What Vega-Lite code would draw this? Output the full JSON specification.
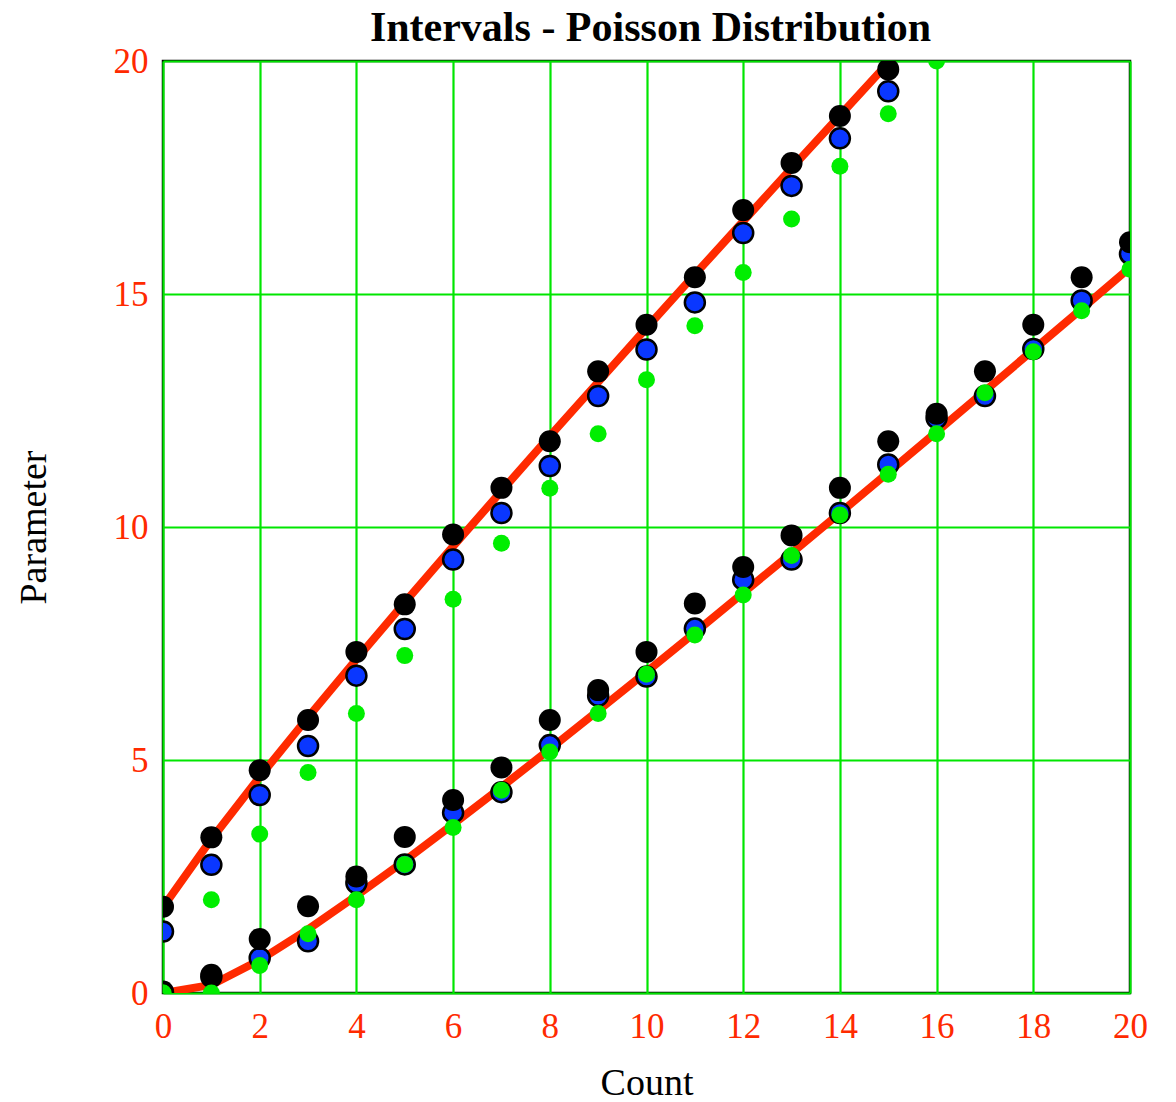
{
  "$schema": "https://vega.github.io/schema/vega-lite/v6.json",
  "width": 967,
  "height": 932,
  "autosize": {"type": "none"},
  "padding": {"left": 163, "top": 61, "right": 46, "bottom": 109},
  "background": "white",
  "title": {
    "text": "Intervals - Poisson Distribution",
    "font": "Liberation Serif",
    "fontSize": 42,
    "fontWeight": "bold",
    "color": "black",
    "anchor": "middle",
    "frame": "group",
    "baseline": "alphabetic",
    "offset": 20,
    "dy": 59,
    "dx": 4
  },
  "config": {
    "view": {"stroke": "black", "strokeWidth": 2.5},
    "axis": {
      "domain": false,
      "ticks": false,
      "grid": true,
      "gridColor": "#00e600",
      "gridWidth": 2.2,
      "gridOpacity": 1,
      "labelFont": "Liberation Serif",
      "labelFontSize": 35,
      "labelColor": "#ff2a00",
      "titleFont": "Liberation Serif",
      "titleFontSize": 38,
      "titleFontWeight": "normal",
      "titleColor": "black"
    }
  },
  "data": {
    "values": [
      {"count": 0, "red_lo": 0, "red_hi": 1.841, "black_lo": 0.03, "black_hi": 1.85, "blue_lo": 0, "blue_hi": 1.32, "green_lo": 0, "green_hi": 0},
      {"count": 1, "red_lo": 0.173, "red_hi": 3.3, "black_lo": 0.39, "black_hi": 3.34, "blue_lo": 0.35, "blue_hi": 2.75, "green_lo": 0, "green_hi": 2.0},
      {"count": 2, "red_lo": 0.708, "red_hi": 4.638, "black_lo": 1.16, "black_hi": 4.78, "blue_lo": 0.75, "blue_hi": 4.25, "green_lo": 0.59, "green_hi": 3.41},
      {"count": 3, "red_lo": 1.367, "red_hi": 5.918, "black_lo": 1.86, "black_hi": 5.86, "blue_lo": 1.11, "blue_hi": 5.3, "green_lo": 1.27, "green_hi": 4.73},
      {"count": 4, "red_lo": 2.086, "red_hi": 7.163, "black_lo": 2.5, "black_hi": 7.32, "blue_lo": 2.36, "blue_hi": 6.81, "green_lo": 2.0, "green_hi": 6.0},
      {"count": 5, "red_lo": 2.84, "red_hi": 8.382, "black_lo": 3.35, "black_hi": 8.34, "blue_lo": 2.76, "blue_hi": 7.81, "green_lo": 2.76, "green_hi": 7.24},
      {"count": 6, "red_lo": 3.62, "red_hi": 9.584, "black_lo": 4.14, "black_hi": 9.84, "blue_lo": 3.87, "blue_hi": 9.3, "green_lo": 3.55, "green_hi": 8.45},
      {"count": 7, "red_lo": 4.419, "red_hi": 10.77, "black_lo": 4.84, "black_hi": 10.84, "blue_lo": 4.31, "blue_hi": 10.3, "green_lo": 4.35, "green_hi": 9.65},
      {"count": 8, "red_lo": 5.232, "red_hi": 11.95, "black_lo": 5.86, "black_hi": 11.84, "blue_lo": 5.32, "blue_hi": 11.31, "green_lo": 5.17, "green_hi": 10.83},
      {"count": 9, "red_lo": 6.057, "red_hi": 13.11, "black_lo": 6.5, "black_hi": 13.34, "blue_lo": 6.38, "blue_hi": 12.81, "green_lo": 6.0, "green_hi": 12.0},
      {"count": 10, "red_lo": 6.891, "red_hi": 14.27, "black_lo": 7.32, "black_hi": 14.34, "blue_lo": 6.79, "blue_hi": 13.81, "green_lo": 6.84, "green_hi": 13.16},
      {"count": 11, "red_lo": 7.734, "red_hi": 15.42, "black_lo": 8.36, "black_hi": 15.36, "blue_lo": 7.82, "blue_hi": 14.82, "green_lo": 7.68, "green_hi": 14.32},
      {"count": 12, "red_lo": 8.585, "red_hi": 16.56, "black_lo": 9.14, "black_hi": 16.8, "blue_lo": 8.87, "blue_hi": 16.31, "green_lo": 8.54, "green_hi": 15.46},
      {"count": 13, "red_lo": 9.441, "red_hi": 17.7, "black_lo": 9.82, "black_hi": 17.81, "blue_lo": 9.3, "blue_hi": 17.32, "green_lo": 9.39, "green_hi": 16.61},
      {"count": 14, "red_lo": 10.3, "red_hi": 18.83, "black_lo": 10.84, "black_hi": 18.82, "blue_lo": 10.3, "blue_hi": 18.34, "green_lo": 10.26, "green_hi": 17.74},
      {"count": 15, "red_lo": 11.17, "red_hi": 19.96, "black_lo": 11.84, "black_hi": 19.82, "blue_lo": 11.34, "blue_hi": 19.35, "green_lo": 11.13, "green_hi": 18.87},
      {"count": 16, "red_lo": 12.04, "red_hi": 21.08, "black_lo": 12.43, "black_hi": null, "blue_lo": 12.34, "blue_hi": null, "green_lo": 12.0, "green_hi": 20.0},
      {"count": 17, "red_lo": 12.92, "red_hi": null, "black_lo": 13.34, "black_hi": null, "blue_lo": 12.81, "blue_hi": null, "green_lo": 12.88, "green_hi": null},
      {"count": 18, "red_lo": 13.8, "red_hi": null, "black_lo": 14.34, "black_hi": null, "blue_lo": 13.82, "blue_hi": null, "green_lo": 13.76, "green_hi": null},
      {"count": 19, "red_lo": 14.68, "red_hi": null, "black_lo": 15.36, "black_hi": null, "blue_lo": 14.86, "blue_hi": null, "green_lo": 14.64, "green_hi": null},
      {"count": 20, "red_lo": 15.57, "red_hi": null, "black_lo": 16.11, "black_hi": null, "blue_lo": 15.86, "blue_hi": null, "green_lo": 15.53, "green_hi": null}
    ]
  },
  "encoding": {
    "x": {
      "field": "count",
      "type": "quantitative",
      "scale": {"domain": [0, 20], "nice": false, "zero": false},
      "axis": {"title": "Count", "values": [0, 2, 4, 6, 8, 10, 12, 14, 16, 18, 20], "labelPadding": 16, "labelDx": 7, "titlePadding": 20, "labelFlush": false}
    }
  },
  "layer": [
    {
      "mark": {"type": "line", "color": "#ff2a00", "strokeWidth": 8, "clip": true},
      "encoding": {
        "y": {
          "field": "red_lo",
          "type": "quantitative",
          "scale": {"domain": [0, 20], "nice": false},
          "axis": {"title": "Parameter", "values": [0, 5, 10, 15, 20], "labelPadding": 15, "labelDy": 4, "titlePadding": 60, "labelFlush": false}
        }
      }
    },
    {
      "mark": {"type": "line", "color": "#ff2a00", "strokeWidth": 8, "clip": true},
      "encoding": {"y": {"field": "red_hi", "type": "quantitative"}}
    },
    {
      "mark": {"type": "point", "shape": "circle", "filled": true, "color": "#0a37ff", "stroke": "black", "strokeWidth": 2.5, "size": 400, "opacity": 1, "clip": true},
      "encoding": {"y": {"field": "blue_lo", "type": "quantitative"}}
    },
    {
      "mark": {"type": "point", "shape": "circle", "filled": true, "color": "#0a37ff", "stroke": "black", "strokeWidth": 2.5, "size": 400, "opacity": 1, "clip": true},
      "encoding": {"y": {"field": "blue_hi", "type": "quantitative"}}
    },
    {
      "mark": {"type": "point", "shape": "circle", "filled": true, "color": "black", "size": 484, "opacity": 1, "clip": true},
      "encoding": {"y": {"field": "black_lo", "type": "quantitative"}}
    },
    {
      "mark": {"type": "point", "shape": "circle", "filled": true, "color": "black", "size": 484, "opacity": 1, "clip": true},
      "encoding": {"y": {"field": "black_hi", "type": "quantitative"}}
    },
    {
      "mark": {"type": "point", "shape": "circle", "filled": true, "color": "#00ee00", "size": 289, "opacity": 1, "clip": true},
      "encoding": {"y": {"field": "green_lo", "type": "quantitative"}}
    },
    {
      "mark": {"type": "point", "shape": "circle", "filled": true, "color": "#00ee00", "size": 289, "opacity": 1, "clip": true},
      "encoding": {"y": {"field": "green_hi", "type": "quantitative"}}
    }
  ]
}
